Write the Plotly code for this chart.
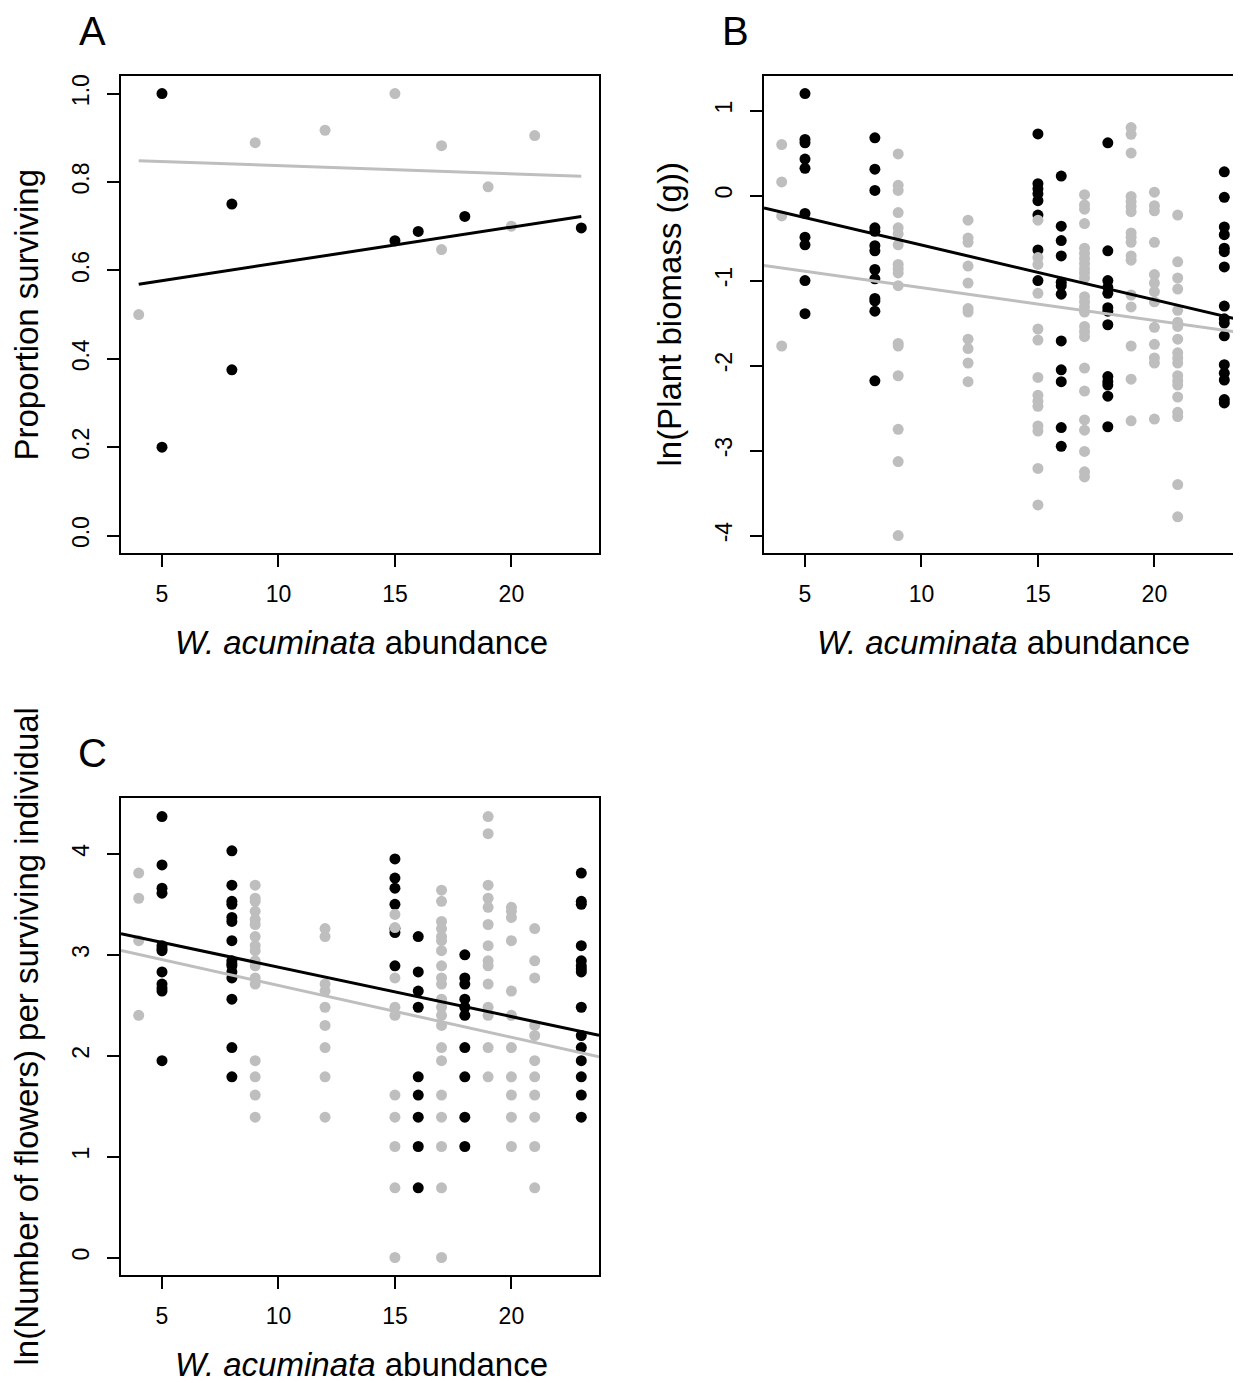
import plotly.graph_objects as go

FONT = "Liberation Sans, Arial, sans-serif"
BLACK = "#000000"
GRAY = "#BEBEBE"

# ---------------- Panel A : proportion surviving ----------------
A_black_x = [5, 5, 8, 8, 15, 16, 18, 23]
A_black_y = [1.0, 0.2, 0.75, 0.375, 0.667, 0.688, 0.722, 0.696]
A_gray_x = [4, 9, 12, 15, 17, 17, 19, 20, 21]
A_gray_y = [0.5, 0.889, 0.917, 1.0, 0.882, 0.647, 0.789, 0.70, 0.905]
A_fit_x = [4, 23]
A_black_fit = [0.5362, 0.00808]    # intercept, slope
A_gray_fit = [0.8554, -0.00184]

# ---------------- Panel B : ln(plant biomass) ----------------
B_black_cols = [5, 8, 15, 16, 18, 23]
B_black_vals = [
    [1.20, 0.66, 0.62, 0.43, 0.32, -0.21, -0.49, -0.58, -1.00, -1.39],
    [0.68, 0.31, 0.06, -0.38, -0.42, -0.59, -0.65, -0.87, -0.98, -1.21, -1.24, -1.36, -2.18],
    [0.725, 0.14, 0.08, 0.02, -0.06, -0.23, -0.64, -1.00],
    [0.23, -0.36, -0.53, -0.71, -1.02, -1.06, -1.16, -1.71, -2.05, -2.19, -2.73, -2.95],
    [0.62, -0.65, -1.00, -1.08, -1.15, -1.32, -1.36, -1.52, -2.13, -2.19, -2.23, -2.36, -2.72],
    [0.28, -0.02, -0.37, -0.46, -0.62, -0.66, -0.84, -1.30, -1.45, -1.50, -1.65, -1.99, -2.09, -2.17, -2.40, -2.44],
]
B_gray_cols = [4, 9, 12, 15, 17, 19, 20, 21]
B_gray_vals = [
    [0.60, 0.16, -0.24, -1.77],
    [0.49, 0.12, 0.06, -0.20, -0.38, -0.45, -0.58, -0.81, -0.86, -0.91, -1.06, -1.74, -1.77, -2.12, -2.75, -3.13, -4.00],
    [-0.29, -0.50, -0.55, -0.83, -1.03, -1.33, -1.37, -1.69, -1.80, -1.97, -2.19],
    [-0.29, -0.73, -0.81, -1.15, -1.57, -1.70, -2.14, -2.35, -2.42, -2.48, -2.71, -2.77, -3.21, -3.64],
    [0.01, -0.11, -0.16, -0.33, -0.62, -0.68, -0.74, -0.80, -0.86, -0.91, -0.97, -1.19, -1.25, -1.31, -1.37,
     -1.54, -1.60, -1.66, -2.03, -2.30, -2.64, -2.76, -3.01, -3.25, -3.31],
    [0.80, 0.72, 0.50, -0.01, -0.07, -0.13, -0.19, -0.44, -0.49, -0.55, -0.71, -0.76, -1.17, -1.31, -1.77, -2.16, -2.65],
    [0.04, -0.12, -0.18, -0.55, -0.93, -1.03, -1.13, -1.25, -1.55, -1.75, -1.91, -1.97, -2.63],
    [-0.23, -0.78, -0.97, -1.10, -1.35, -1.49, -1.54, -1.69, -1.85, -1.91, -1.97, -2.12, -2.18, -2.23, -2.37,
     -2.55, -2.60, -3.40, -3.78],
]
B_black_fit = [0.062, -0.0644]
B_gray_fit = [-0.697, -0.0386]

# ---------------- Panel C : ln(number of flowers) ----------------
C_black_cols = [5, 8, 15, 16, 18, 23]
C_black_vals = [
    [4.37, 3.89, 3.66, 3.61, 3.09, 3.06, 3.04, 2.83, 2.71, 2.67, 2.64, 1.95],
    [4.03, 3.69, 3.53, 3.50, 3.37, 3.33, 3.14, 2.94, 2.91, 2.89, 2.83, 2.77, 2.56, 2.08, 1.79],
    [3.95, 3.76, 3.66, 3.50, 3.26, 3.22, 2.89],
    [3.18, 2.83, 2.64, 2.48, 1.79, 1.61, 1.39, 1.10, 0.69],
    [3.00, 2.77, 2.71, 2.56, 2.48, 2.40, 2.08, 1.79, 1.39, 1.10],
    [3.81, 3.53, 3.50, 3.09, 2.94, 2.89, 2.86, 2.83, 2.48, 2.20, 2.08, 1.95, 1.79, 1.61, 1.39],
]
C_gray_cols = [4, 9, 12, 15, 17, 19, 20, 21]
C_gray_vals = [
    [3.81, 3.56, 3.14, 2.40],
    [3.69, 3.56, 3.53, 3.43, 3.35, 3.30, 3.18, 3.09, 3.04, 2.94, 2.89, 2.77, 2.71, 1.95, 1.79, 1.61, 1.39],
    [3.26, 3.18, 2.71, 2.64, 2.48, 2.30, 2.08, 1.79, 1.39],
    [3.40, 3.27, 2.77, 2.48, 2.40, 1.61, 1.39, 1.10, 0.69, 0.00],
    [3.64, 3.53, 3.33, 3.26, 3.18, 3.14, 3.04, 2.89, 2.77, 2.71, 2.56, 2.48, 2.40, 2.30, 2.08, 1.95,
     1.61, 1.39, 1.10, 0.69, 0.00],
    [4.37, 4.20, 3.69, 3.56, 3.47, 3.30, 3.09, 2.94, 2.89, 2.71, 2.48, 2.40, 2.08, 1.79],
    [3.47, 3.43, 3.37, 3.14, 2.64, 2.40, 2.08, 1.79, 1.61, 1.39, 1.10],
    [3.26, 2.94, 2.77, 2.30, 2.20, 1.95, 1.79, 1.61, 1.39, 1.10, 0.69],
]
C_black_fit = [3.367, -0.049]
C_gray_fit = [3.210, -0.0514]

# ---------------- ticks & labels ----------------
x_ticks = [5, 10, 15, 20]
A_yticks = [0.0, 0.2, 0.4, 0.6, 0.8, 1.0]
A_yticklabels = ["0.0", "0.2", "0.4", "0.6", "0.8", "1.0"]
B_yticks = [-4, -3, -2, -1, 0, 1]
B_yticklabels = ["-4", "-3", "-2", "-1", "0", "1"]
C_yticks = [0, 1, 2, 3, 4]
C_yticklabels = ["0", "1", "2", "3", "4"]
x_title = "<i>W. acuminata</i> abundance"
A_ytitle = "Proportion surviving"
B_ytitle = "ln(Plant biomass (g))"
C_ytitle = "ln(Number of flowers) per surviving individual"
panel_letters = ["A", "B", "C"]

# ---------------- geometry (pixels) ----------------
PAGE_OFF = 8          # default body margin of the html page
W, H = 1241 - PAGE_OFF, 1383 - PAGE_OFF
A_xrange = [3.24, 23.76]
B_xrange = [3.24, 23.717]
C_xrange = [3.24, 23.76]
A_yrange = [-0.04, 1.04]
B_yrange = [-4.208, 1.408]
C_yrange = [-0.175, 4.555]


def px_x(p):
    return (p - PAGE_OFF) / W


def px_y(p):
    return 1 - (p - PAGE_OFF) / H


def expand(cols, vals):
    xs, ys = [], []
    for c, vs in zip(cols, vals):
        for v in vs:
            xs.append(c)
            ys.append(v)
    return xs, ys


fig = go.Figure()
MS = 11


def pts(x, y, color, xa, ya):
    fig.add_trace(go.Scatter(x=x, y=y, mode="markers", xaxis=xa, yaxis=ya,
                             marker=dict(color=color, size=MS, line=dict(width=0)),
                             showlegend=False, hoverinfo="x+y"))


def fit_line(fit, xr, color, width, xa, ya):
    xs = list(xr)
    ys = [fit[0] + fit[1] * v for v in xs]
    fig.add_trace(go.Scatter(x=xs, y=ys, mode="lines", xaxis=xa, yaxis=ya,
                             line=dict(color=color, width=width),
                             showlegend=False, hoverinfo="skip"))


# Panel A
pts(A_black_x, A_black_y, BLACK, "x", "y")
pts(A_gray_x, A_gray_y, GRAY, "x", "y")
fit_line(A_black_fit, A_fit_x, BLACK, 3, "x", "y")
fit_line(A_gray_fit, A_fit_x, GRAY, 3, "x", "y")

# Panel B
bx, by = expand(B_black_cols, B_black_vals)
gx, gy = expand(B_gray_cols, B_gray_vals)
pts(bx, by, BLACK, "x2", "y2")
pts(gx, gy, GRAY, "x2", "y2")
fit_line(B_black_fit, B_xrange, BLACK, 3, "x2", "y2")
fit_line(B_gray_fit, B_xrange, GRAY, 3, "x2", "y2")

# Panel C
bx, by = expand(C_black_cols, C_black_vals)
gx, gy = expand(C_gray_cols, C_gray_vals)
pts(bx, by, BLACK, "x3", "y3")
pts(gx, gy, GRAY, "x3", "y3")
fit_line(C_black_fit, C_xrange, BLACK, 3, "x3", "y3")
fit_line(C_gray_fit, C_xrange, GRAY, 3, "x3", "y3")

TICKFONT = dict(family=FONT, size=23, color="black")
LINEW = 1.5


def xaxis(dom, rng, anchor):
    return dict(domain=dom, range=rng, anchor=anchor, showgrid=False, zeroline=False,
                showline=True, mirror=True, linecolor="black", linewidth=LINEW,
                ticks="outside", ticklen=12, tickwidth=LINEW, tickcolor="black",
                tickvals=x_ticks, ticktext=[str(t) for t in x_ticks],
                tickfont=TICKFONT, ticklabelstandoff=7, fixedrange=True)


def yaxis(dom, rng, anchor, tv, tt, mirror=True):
    return dict(domain=dom, range=rng, anchor=anchor, showgrid=False, zeroline=False,
                showline=True, mirror=mirror, linecolor="black", linewidth=LINEW,
                ticks="outside", ticklen=12, tickwidth=LINEW, tickcolor="black",
                tickvals=tv, ticktext=tt, tickangle=-90,
                tickfont=TICKFONT, ticklabelstandoff=9, fixedrange=True)


A_xdom = [px_x(121), px_x(599)]
B_xdom = [px_x(764), 1.0]
top_ydom = [px_y(552), px_y(74)]
C_ydom = [px_y(1275), px_y(797)]

fig.update_layout(
    width=W, height=H, margin=dict(l=0, r=0, t=0, b=0),
    paper_bgcolor="white", plot_bgcolor="white",
    font=dict(family=FONT, color="black"),
    xaxis=xaxis(A_xdom, A_xrange, "y"),
    yaxis=yaxis(top_ydom, A_yrange, "x", A_yticks, A_yticklabels),
    xaxis2=xaxis(B_xdom, B_xrange, "y2"),
    yaxis2=yaxis(top_ydom, B_yrange, "x2", B_yticks, B_yticklabels, mirror=False),
    xaxis3=xaxis(A_xdom, C_xrange, "y3"),
    yaxis3=yaxis(C_ydom, C_yrange, "x3", C_yticks, C_yticklabels),
)

TITLEFONT = dict(family=FONT, size=33, color="black")
LETTERFONT = dict(family=FONT, size=40, color="black")


def ann(text, x, y, font, angle=0):
    fig.add_annotation(text=text, x=px_x(x), y=px_y(y), xref="paper", yref="paper",
                       showarrow=False, font=font, textangle=angle,
                       xanchor="center", yanchor="middle")


ann(x_title, 361, 641, TITLEFONT)
ann(x_title, 1003, 641, TITLEFONT)
ann(x_title, 361, 1364, TITLEFONT)
ann(A_ytitle, 27, 313, TITLEFONT, -90)
ann(B_ytitle, 670, 313, TITLEFONT, -90)
ann(C_ytitle, 27, 1036, TITLEFONT, -90)
ann(panel_letters[0], 92, 29, LETTERFONT)
ann(panel_letters[1], 735, 29, LETTERFONT)
ann(panel_letters[2], 92, 752, LETTERFONT)

fig.write_html("out.html")
